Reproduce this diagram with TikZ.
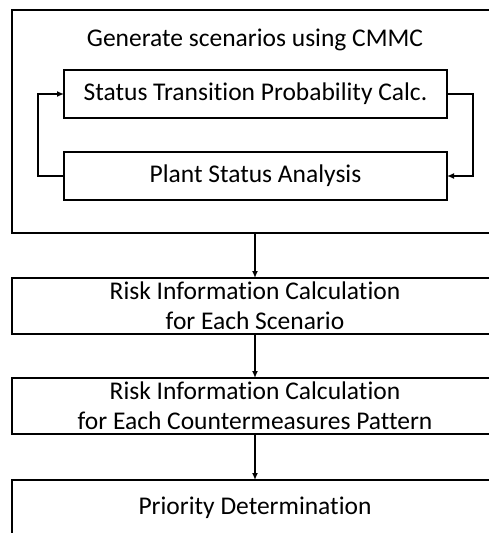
\documentclass[tikz,border=0pt]{standalone}
\usepackage{fontspec}
\setmainfont[Ligatures=CommonOff]{Carlito}
\usetikzlibrary{positioning, arrows.meta, calc}

\begin{document}
\begin{tikzpicture}[
    x=1pt, y=-1pt,
    box/.style={
        rectangle,
        draw=black,
        line width=1.7pt,
        inner sep=0pt,
        outer sep=0pt,
        align=center,
        font=\fontsize{25.5}{30}\selectfont
    },
    arrow/.style={
        -{Latex[length=7pt, width=6pt]},
        line width=1.5pt
    }
]
    \clip (0,0) rectangle (489,533);
    \useasboundingbox (0,0) rectangle (489,533);

    % -- Scenario generation --
    \node[box, minimum width=486pt, minimum height=223pt] (cmmc) at (255,121.5) {};
    \node[font=\fontsize{25.5}{30}\selectfont, inner sep=0pt] (title) at (255,40) {Generate scenarios using CMMC};

    \node[box, minimum width=383pt, minimum height=48pt] (stp) at (255.5,94) {Status Transition Probability Calc.};
    \node[box, minimum width=383pt, minimum height=48pt] (psa) at (255.5,176) {Plant Status Analysis};

    % Loop between the two steps
    \draw[arrow] (stp.east) -- ++(26,0) |- (psa.east);
    \draw[arrow] (psa.west) -- ++(-26,0) |- (stp.west);

    % -- Following steps --
    \node[box, minimum width=486pt, minimum height=56pt] (scen) at (255,306) {Risk Information Calculation\\for Each Scenario};
    \node[box, minimum width=486pt, minimum height=56pt] (pattern) at (255,406) {Risk Information Calculation\\for Each Countermeasures Pattern};
    \node[box, minimum width=486pt, minimum height=56pt] (prio) at (255,508) {Priority Determination};

    \draw[arrow] (cmmc.south) -- (scen.north);
    \draw[arrow] (scen.south) -- (pattern.north);
    \draw[arrow] (pattern.south) -- (prio.north);

\end{tikzpicture}
\end{document}
